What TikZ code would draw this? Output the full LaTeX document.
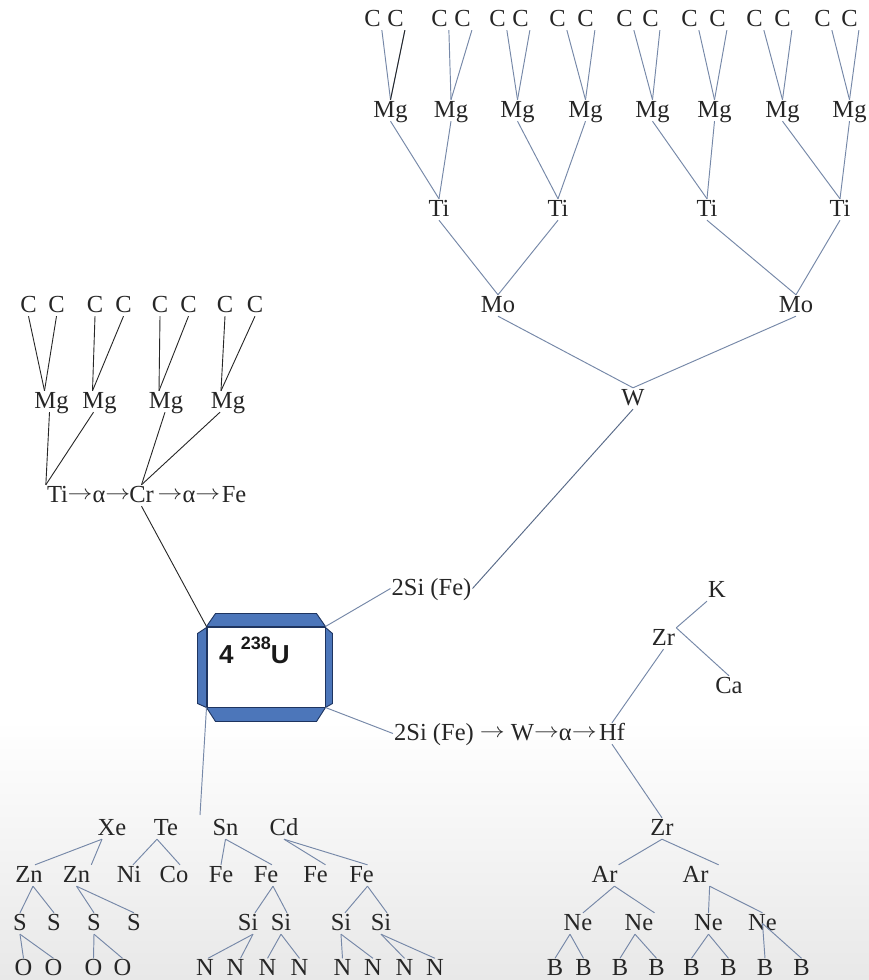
\documentclass[tikz,border=0pt]{standalone}
\usepackage{fontspec}
\setmainfont{Liberation Serif}
\newfontfamily\ufont{Liberation Sans}
\usepackage{graphicx}
\usepackage{tikz}
\usetikzlibrary{calc,positioning}
\definecolor{linkblue}{RGB}{118,136,168}
\definecolor{linkdark}{RGB}{88,106,136}
\definecolor{tabblue}{RGB}{76,118,186}
\definecolor{tabedge}{RGB}{30,52,95}
\newcommand\rarr{\raisebox{3pt}{\scalebox{1.2}[1]{\fontsize{20}{20}\selectfont$\rightarrow$}}}
\tikzset{
  el/.style={inner sep=1pt,text height=16pt,text depth=3pt,
        font=\fontsize{24.5}{29}\selectfont,text=black!85},
  link/.style={draw=linkblue,line width=.95pt},
  blink/.style={draw=black!85,line width=.9pt},
  tab/.style={fill=tabblue,draw=tabedge,line width=.9pt,line join=round},
  ubox/.style={draw=tabedge,fill=white,line width=1pt,minimum width=118pt,
        minimum height=80pt,inner sep=0pt},
  ulabel/.style={anchor=base west,inner sep=0pt,text=black!90,
        font=\ufont\bfseries\fontsize{26}{30}\selectfont},
}

\begin{document}
\begin{tikzpicture}[x=1pt,y=-1pt]
\useasboundingbox (0,0) rectangle (869,980);
\fill[white] (0,0) rectangle (869,720);
\shade[top color=white,bottom color=black!9] (0,720) rectangle (869,980);

% upper tree
\foreach \x [count=\i] in {372.5,395.5,439.5,462.5,497.5,520.5,557.5,585.5,
    624.5,650.5,689.5,717.5,754.5,782.5,822.5,849.5}
  \node[el] (tc\i) at (\x,19.5) {C};
\foreach \x [count=\i] in {390.5,451,517.5,585.5,652.5,714.5,782.5,849.5}
  \node[el] (tm\i) at (\x,110.5) {Mg};
\foreach \x [count=\i] in {439,558,707,840}
  \node[el] (tt\i) at (\x,209.5) {Ti};
\node[el] (mo1) at (498,305.5) {Mo};
\node[el] (mo2) at (796,305.5) {Mo};
\node[el] (w)   at (633,398.5) {W};
\foreach \i in {1,...,16} {
  \pgfmathtruncatemacro\m{(\i+1)/2}
  \draw[link] (tc\i.south east) -- (tm\m.north);
}
\draw[blink] (tc2.south east) -- (tm1.north);
\foreach \i in {1,...,8} {
  \pgfmathtruncatemacro\t{(\i+1)/2}
  \draw[link] (tm\i.south) -- (tt\t.north);
}
\draw[link] (tt1.south) -- (mo1.north);
\draw[link] (tt2.south) -- (mo1.north);
\draw[link] (tt3.south) -- (mo2.north);
\draw[link] (tt4.south) -- (mo2.north);
\draw[link] (mo1.south) -- (w.north);
\draw[link] (mo2.south) -- (w.north);

% left tree
\foreach \x [count=\i] in {28.5,56.5,95,123.5,160,188.5,225,255}
  \node[el] (lc\i) at (\x,305.5) {C};
\foreach \x [count=\i] in {51.5,99.5,166,228}
  \node[el] (lm\i) at (\x,401.5) {Mg};
\node[el] (ti)  at (57.5,495.5)  {Ti};
\node[el] (al1) at (99,495.5)    {\rarr α\rarr};
\node[el] (cr)  at (141.5,495.5) {Cr};
\node[el] (al2) at (189,495.5)   {\rarr α\rarr};
\node[el] (fe)  at (234,495.5)   {Fe};
\foreach \i in {1,...,8} {
  \pgfmathtruncatemacro\m{(\i+1)/2}
  \draw[blink] (lc\i.south) -- ([xshift=-7pt]lm\m.north);
}
\draw[blink] ([xshift=-2pt]lm1.south) -- (ti.north west);
\draw[blink] ([xshift=-6pt]lm2.south) -- (ti.north west);
\draw[blink] ([xshift=-1pt]lm3.south) -- (cr.north);
\draw[blink] ([xshift=-8pt]lm4.south) -- (cr.north);

% uranium box
\node[ubox] (u) at (266,667) {};
\draw[tab] (u.north west) -- ++(9,-13) -- ($(u.north east)+(-9,-13)$)
  -- (u.north east) -- cycle;
\draw[tab] (u.south west) -- ++(9,14) -- ($(u.south east)+(-9,14)$)
  -- (u.south east) -- cycle;
\draw[tab] ($(u.north west)+(0,1)$) -- ++(-9,6) -- ($(u.south west)+(-9,-4)$)
  -- (u.south west) -- cycle;
\draw[tab] ($(u.north east)+(0,1)$) -- ++(7,6) -- ($(u.south east)+(7,-4)$)
  -- (u.south east) -- cycle;
\node[ulabel] (utext) at (219,663)
  {4 \raisebox{14pt}{\fontsize{18}{20}\selectfont 238}U};

\node[el] (upsi) at (431.5,588.5) {2Si (Fe)};
\node[el] (hf)   at (612,733.5)   {Hf};
\node[el,left=0pt of hf] (lowsi) {2Si (Fe) \rarr{} W\rarr α\rarr};
\coordinate (drop) at (200,815);
\draw[blink] (u.north west) -- (cr.south);
\draw[link] (u.north east) -- (upsi.west);
\draw[link] (u.south east) -- (lowsi.west);
\draw[link] (u.south west) -- (drop);
\draw[link,draw=linkdark] (w.south) -- (upsi.east);

% right tree
\node[el] (k)   at (717,590.5)   {K};
\node[el] (zr1) at (663.5,638.5) {Zr};
\node[el] (ca)  at (729,686.5)   {Ca};
\node[el] (zr2) at (662,828.5)   {Zr};
\node[el] (ara) at (604.5,875.5) {Ar};
\node[el] (arb) at (695.5,875.5) {Ar};
\foreach \x [count=\i] in {578,639,708.5,762.5}
  \node[el] (ne\i) at (\x,923.5) {Ne};
\foreach \x [count=\i] in {555,583.5,620,656.5,691.5,728.5,765,801.5}
  \node[el] (b\i) at (\x,969) {B};
\draw[link] (zr1.north east) -- (k.south west);
\draw[link] (zr1.north east) -- (ca.north);
\draw[link] (hf.north) -- (zr1.south);
\draw[link] (hf.south) -- (zr2.north);
\draw[link] (zr2.south) -- (ara.north east);
\draw[link] (zr2.south) -- ([xshift=9pt]arb.north east);
\draw[link] ([xshift=10pt]ara.south) -- ([xshift=5pt]ne1.north);
\draw[link] ([xshift=10pt]ara.south) -- (ne2.north east);
\draw[link] (arb.south east) -- (ne3.north);
\draw[link] (arb.south east) -- (ne4.north);
\draw[link] ([xshift=-8pt]ne1.south) -- (b1.north);
\draw[link] ([xshift=-8pt]ne1.south) -- (b2.north);
\draw[link] ([xshift=-4pt]ne2.south) -- (b3.north);
\draw[link] ([xshift=-4pt]ne2.south) -- (b4.north);
\draw[link] (ne3.south) -- (b5.north);
\draw[link] (ne3.south) -- (b6.north);
\draw[link] (ne4.center) -- (b7.north);
\draw[link] (ne4.center) -- (b8.north);

% lower left tree
\node[el] (xe)  at (112,828.5)   {Xe};
\node[el] (te)  at (166,828.5)   {Te};
\node[el] (sn)  at (225.5,828.5) {Sn};
\node[el] (cd)  at (284,828.5)   {Cd};
\node[el] (zn1) at (29,875.5)    {Zn};
\node[el] (zn2) at (76.5,875.5)  {Zn};
\node[el] (ni)  at (129,875.5)   {Ni};
\node[el] (co)  at (174,875.5)   {Co};
\node[el] (fe1) at (221,875.5)   {Fe};
\node[el] (fe2) at (266,875.5)   {Fe};
\node[el] (fe3) at (315.5,875.5) {Fe};
\node[el] (fe4) at (361.5,875.5) {Fe};
\foreach \x [count=\i] in {20,54,94,134}
  \node[el] (s\i) at (\x,923.5) {S};
\foreach \x [count=\i] in {248,281,341,381}
  \node[el] (si\i) at (\x,923.5) {Si};
\foreach \x [count=\i] in {23.5,53.5,93.5,122.5}
  \node[el] (o\i) at (\x,969) {O};
\foreach \x [count=\i] in {205,235.5,267.5,299.5,342.5,373,404.5,435}
  \node[el] (n\i) at (\x,969) {N};
\draw[link] ([xshift=-10pt]xe.south) -- ([xshift=6pt]zn1.north);
\draw[link] ([xshift=-10pt]xe.south) -- (zn2.north east);
\draw[link] ([xshift=-9pt]te.south) -- ([xshift=4pt]ni.north);
\draw[link] ([xshift=-9pt]te.south) -- ([xshift=6pt]co.north);
\draw[link] (sn.south) -- (fe1.north);
\draw[link] (sn.south) -- ([xshift=6pt]fe2.north);
\draw[link] (cd.south) -- ([xshift=10pt]fe3.north);
\draw[link] (cd.south) -- ([xshift=6pt]fe4.north);
\draw[link] ([xshift=4pt]zn1.south) -- (s1.north);
\draw[link] ([xshift=4pt]zn1.south) -- (s2.north);
\draw[link] (zn2.south) -- (s3.north);
\draw[link] (zn2.south) -- (s4.north);
\draw[link] (s1.south) -- (o1.north);
\draw[link] (s1.south) -- (o2.north);
\draw[link] (s3.south) -- (o3.north);
\draw[link] (s3.south) -- (o4.north);
\draw[link] ([xshift=7pt]fe2.south) -- ([xshift=7pt]si1.north);
\draw[link] ([xshift=7pt]fe2.south) -- ([xshift=6pt]si2.north);
\draw[link] ([xshift=6pt]fe4.south) -- ([xshift=4pt]si3.north);
\draw[link] ([xshift=6pt]fe4.south) -- ([xshift=6pt]si4.north);
\draw[link] ([xshift=5pt]si1.south) -- ([xshift=3pt]n1.north);
\draw[link] ([xshift=5pt]si1.south) -- ([xshift=5pt]n2.north);
\draw[link] (si2.south) -- (n3.north);
\draw[link] (si2.south) -- (n4.north);
\draw[link] (si3.south) -- (n5.north);
\draw[link] (si3.south) -- (n6.north);
\draw[link] (si4.south) -- (n7.north);
\draw[link] (si4.south) -- (n8.north);
\end{tikzpicture}
\end{document}
